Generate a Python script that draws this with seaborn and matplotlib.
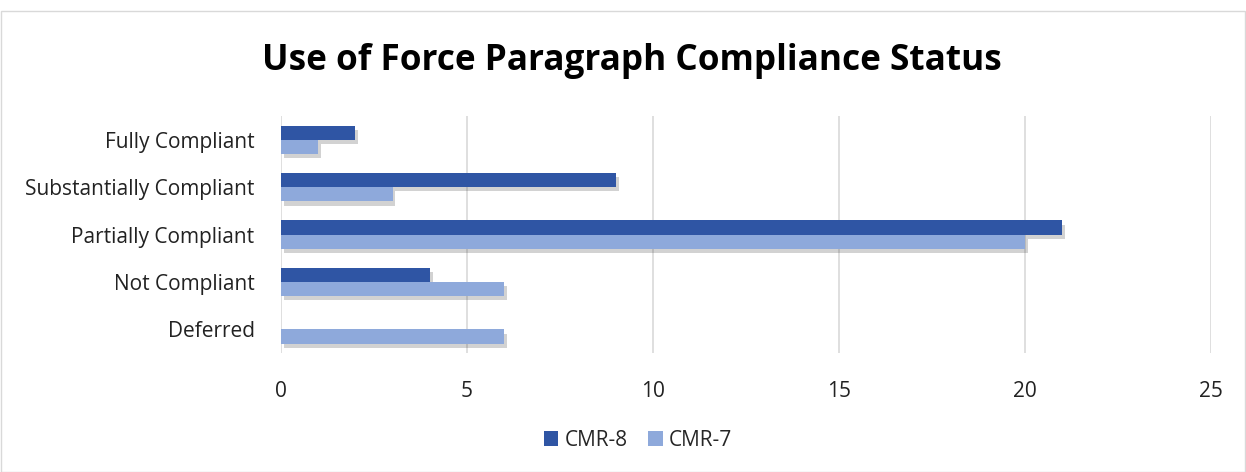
import pandas as pd
import matplotlib.pyplot as plt
import matplotlib.patheffects as pe
import seaborn as sns

categories = ["Fully Compliant", "Substantially Compliant", "Partially Compliant",
              "Not Compliant", "Deferred"]
cmr8 = [2, 9, 21, 4, 0]
cmr7 = [1, 3, 20, 6, 6]
series = ["CMR-8", "CMR-7"]

df = pd.DataFrame({
    "category": categories * 2,
    "value": cmr8 + cmr7,
    "series": [series[0]] * len(categories) + [series[1]] * len(categories),
})

sns.set_style("white")
plt.rcParams["font.family"] = ["Open Sans", "DejaVu Sans"]

fig = plt.figure(figsize=(12.46, 4.72), dpi=100)
ax = fig.add_axes([0.2255, 0.252, 0.7464, 0.502])

sns.barplot(data=df, y="category", x="value", hue="series", orient="h",
            palette=["#2F55A4", "#8EA9DB"], width=0.6, ax=ax, saturation=1,
            linewidth=0, gap=0)

for p in ax.patches:
    p.set_linewidth(0)
    p.set_path_effects([pe.SimplePatchShadow(offset=(2, -3), alpha=0.22, shadow_rgbFace="#333333"),
                        pe.Normal()])

ax.set_xlim(0, 25)
ax.set_xticks([0, 5, 10, 15, 20, 25])
ax.xaxis.grid(True, color="#D9D9D9", linewidth=1.2)
ax.set_axisbelow(True)
for s in ax.spines.values():
    s.set_visible(False)
ax.tick_params(axis="both", length=0, labelsize=15, colors="#222222")
ax.tick_params(axis="x", pad=20)
ax.tick_params(axis="y", pad=19)
ax.set_xlabel("")
ax.set_ylabel("")

leg = ax.legend(loc="lower center", bbox_to_anchor=(0.512, 0.005), bbox_transform=fig.transFigure,
                ncol=2, frameon=False, fontsize=15, handlelength=0.7, handleheight=0.7,
                handletextpad=0.3, columnspacing=1.0)
for h in leg.legend_handles:
    h.set_linewidth(0)
    h.set_path_effects([])

fig.text(0.507, 0.87, "Use of Force Paragraph Compliance Status", ha="center", va="center",
         fontsize=25.3, fontweight="bold", color="#000000")

fig.patches.append(plt.Rectangle((0.001, 0.001), 0.998, 0.975, transform=fig.transFigure,
                                 fill=False, edgecolor="#D9D9D9", linewidth=1))

fig.savefig("out.png", dpi=100)
